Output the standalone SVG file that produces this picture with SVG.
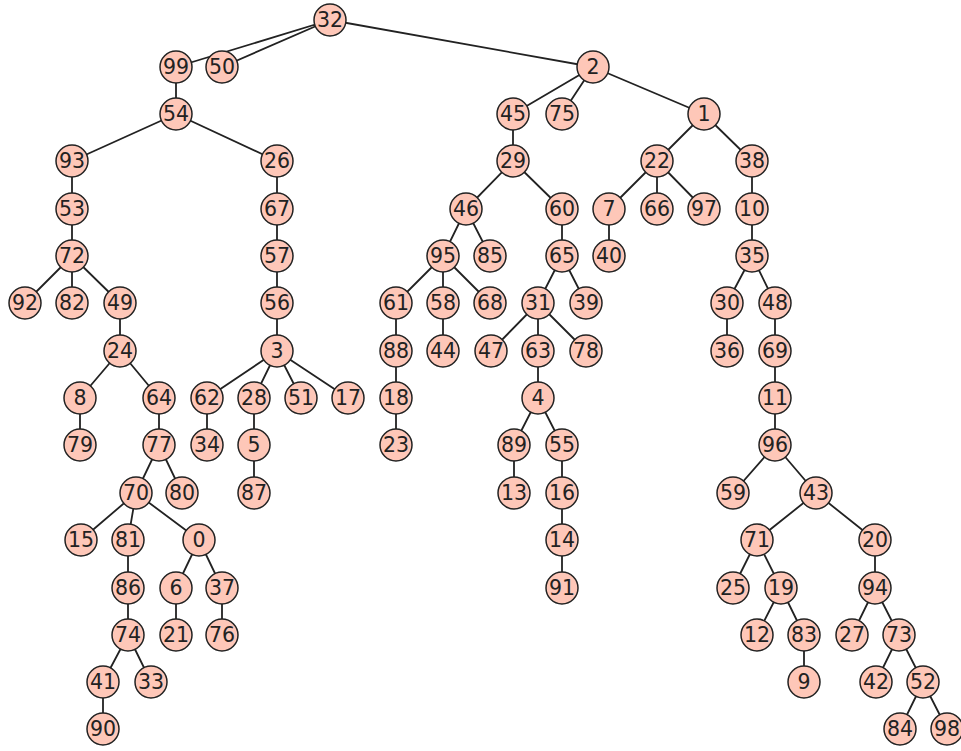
<svg xmlns="http://www.w3.org/2000/svg" width="961" height="751" viewBox="0 0 961 751">
<style>
.e{stroke:#222;stroke-width:1.8;fill:none}
.n circle{fill:#fec7b8;stroke:#222;stroke-width:1.5}
.n text{font-family:"DejaVu Sans",sans-serif;font-size:20.5px;fill:#222;text-anchor:middle;dominant-baseline:central}
</style>
<rect width="961" height="751" fill="#fff"/>
<g id="edges" class="e">
<path d="M330,20L176,67M330,20L222,67M330,20L593,67M176,67L176,114M176,114L72,161M176,114L277,161
M72,161L72,209M72,209L72,256M72,256L25,303M72,256L72,303M72,256L120,303M120,303L120,351M120,351L80,398M120,351L159,398M80,398L80,445M159,398L159,445M159,445L136,493M159,445L182,493
M136,493L81,540M136,493L128,540M136,493L199,540M128,540L128,588M128,588L128,635M128,635L103,682M128,635L151,682M103,682L103,729M199,540L176,588M199,540L222,588M176,588L176,635M222,588L222,635
M277,161L277,209M277,209L277,256M277,256L277,303M277,303L277,351M277,351L207,398M277,351L254,398M277,351L301,398M277,351L348,398M207,398L207,445M254,398L254,445M254,445L254,493
M593,67L513,114M593,67L562,114M593,67L704,114M513,114L513,161M513,161L466,209M513,161L562,209M466,209L443,256M466,209L490,256M443,256L396,303M443,256L443,303M443,256L490,303M396,303L396,351M396,351L396,398M396,398L396,445M443,303L443,351
M562,209L562,256M562,256L538,303M562,256L586,303M538,303L491,351M538,303L538,351M538,303L586,351M538,351L538,398M538,398L514,445M538,398L562,445M514,445L514,493M562,445L562,493M562,493L562,540M562,540L562,588
M704,114L657,161M704,114L752,161M657,161L609,209M657,161L657,209M657,161L704,209M609,209L609,256M752,161L752,209M752,209L752,256M752,256L727,303M752,256L775,303M727,303L727,351M775,303L775,351M775,351L775,398M775,398L775,445
M775,445L733,493M775,445L816,493M816,493L757,540M816,493L875,540M757,540L733,588M757,540L781,588M781,588L757,635M781,588L804,635M804,635L804,682M875,540L875,588M875,588L852,635M875,588L899,635M899,635L876,682M899,635L923,682M923,682L900,729M923,682L947,729"/>
</g>
<g class="n">
<g id="n32"><circle cx="330" cy="20" r="16"/><text x="330" y="20">32</text></g>
<g id="n99"><circle cx="176" cy="67" r="16"/><text x="176" y="67">99</text></g>
<g id="n50"><circle cx="222" cy="67" r="16"/><text x="222" y="67">50</text></g>
<g id="n2"><circle cx="593" cy="67" r="16"/><text x="593" y="67">2</text></g>
<g id="n54"><circle cx="176" cy="114" r="16"/><text x="176" y="114">54</text></g>
<g id="n45"><circle cx="513" cy="114" r="16"/><text x="513" y="114">45</text></g>
<g id="n75"><circle cx="562" cy="114" r="16"/><text x="562" y="114">75</text></g>
<g id="n1"><circle cx="704" cy="114" r="16"/><text x="704" y="114">1</text></g>
<g id="n93"><circle cx="72" cy="161" r="16"/><text x="72" y="161">93</text></g>
<g id="n26"><circle cx="277" cy="161" r="16"/><text x="277" y="161">26</text></g>
<g id="n29"><circle cx="513" cy="161" r="16"/><text x="513" y="161">29</text></g>
<g id="n22"><circle cx="657" cy="161" r="16"/><text x="657" y="161">22</text></g>
<g id="n38"><circle cx="752" cy="161" r="16"/><text x="752" y="161">38</text></g>
<g id="n53"><circle cx="72" cy="209" r="16"/><text x="72" y="209">53</text></g>
<g id="n67"><circle cx="277" cy="209" r="16"/><text x="277" y="209">67</text></g>
<g id="n46"><circle cx="466" cy="209" r="16"/><text x="466" y="209">46</text></g>
<g id="n60"><circle cx="562" cy="209" r="16"/><text x="562" y="209">60</text></g>
<g id="n7"><circle cx="609" cy="209" r="16"/><text x="609" y="209">7</text></g>
<g id="n66"><circle cx="657" cy="209" r="16"/><text x="657" y="209">66</text></g>
<g id="n97"><circle cx="704" cy="209" r="16"/><text x="704" y="209">97</text></g>
<g id="n10"><circle cx="752" cy="209" r="16"/><text x="752" y="209">10</text></g>
<g id="n72"><circle cx="72" cy="256" r="16"/><text x="72" y="256">72</text></g>
<g id="n57"><circle cx="277" cy="256" r="16"/><text x="277" y="256">57</text></g>
<g id="n95"><circle cx="443" cy="256" r="16"/><text x="443" y="256">95</text></g>
<g id="n85"><circle cx="490" cy="256" r="16"/><text x="490" y="256">85</text></g>
<g id="n65"><circle cx="562" cy="256" r="16"/><text x="562" y="256">65</text></g>
<g id="n40"><circle cx="609" cy="256" r="16"/><text x="609" y="256">40</text></g>
<g id="n35"><circle cx="752" cy="256" r="16"/><text x="752" y="256">35</text></g>
<g id="n92"><circle cx="25" cy="303" r="16"/><text x="25" y="303">92</text></g>
<g id="n82"><circle cx="72" cy="303" r="16"/><text x="72" y="303">82</text></g>
<g id="n49"><circle cx="120" cy="303" r="16"/><text x="120" y="303">49</text></g>
<g id="n56"><circle cx="277" cy="303" r="16"/><text x="277" y="303">56</text></g>
<g id="n61"><circle cx="396" cy="303" r="16"/><text x="396" y="303">61</text></g>
<g id="n58"><circle cx="443" cy="303" r="16"/><text x="443" y="303">58</text></g>
<g id="n68"><circle cx="490" cy="303" r="16"/><text x="490" y="303">68</text></g>
<g id="n31"><circle cx="538" cy="303" r="16"/><text x="538" y="303">31</text></g>
<g id="n39"><circle cx="586" cy="303" r="16"/><text x="586" y="303">39</text></g>
<g id="n30"><circle cx="727" cy="303" r="16"/><text x="727" y="303">30</text></g>
<g id="n48"><circle cx="775" cy="303" r="16"/><text x="775" y="303">48</text></g>
<g id="n24"><circle cx="120" cy="351" r="16"/><text x="120" y="351">24</text></g>
<g id="n3"><circle cx="277" cy="351" r="16"/><text x="277" y="351">3</text></g>
<g id="n88"><circle cx="396" cy="351" r="16"/><text x="396" y="351">88</text></g>
<g id="n44"><circle cx="443" cy="351" r="16"/><text x="443" y="351">44</text></g>
<g id="n47"><circle cx="491" cy="351" r="16"/><text x="491" y="351">47</text></g>
<g id="n63"><circle cx="538" cy="351" r="16"/><text x="538" y="351">63</text></g>
<g id="n78"><circle cx="586" cy="351" r="16"/><text x="586" y="351">78</text></g>
<g id="n36"><circle cx="727" cy="351" r="16"/><text x="727" y="351">36</text></g>
<g id="n69"><circle cx="775" cy="351" r="16"/><text x="775" y="351">69</text></g>
<g id="n8"><circle cx="80" cy="398" r="16"/><text x="80" y="398">8</text></g>
<g id="n64"><circle cx="159" cy="398" r="16"/><text x="159" y="398">64</text></g>
<g id="n62"><circle cx="207" cy="398" r="16"/><text x="207" y="398">62</text></g>
<g id="n28"><circle cx="254" cy="398" r="16"/><text x="254" y="398">28</text></g>
<g id="n51"><circle cx="301" cy="398" r="16"/><text x="301" y="398">51</text></g>
<g id="n17"><circle cx="348" cy="398" r="16"/><text x="348" y="398">17</text></g>
<g id="n18"><circle cx="396" cy="398" r="16"/><text x="396" y="398">18</text></g>
<g id="n4"><circle cx="538" cy="398" r="16"/><text x="538" y="398">4</text></g>
<g id="n11"><circle cx="775" cy="398" r="16"/><text x="775" y="398">11</text></g>
<g id="n79"><circle cx="80" cy="445" r="16"/><text x="80" y="445">79</text></g>
<g id="n77"><circle cx="159" cy="445" r="16"/><text x="159" y="445">77</text></g>
<g id="n34"><circle cx="207" cy="445" r="16"/><text x="207" y="445">34</text></g>
<g id="n5"><circle cx="254" cy="445" r="16"/><text x="254" y="445">5</text></g>
<g id="n23"><circle cx="396" cy="445" r="16"/><text x="396" y="445">23</text></g>
<g id="n89"><circle cx="514" cy="445" r="16"/><text x="514" y="445">89</text></g>
<g id="n55"><circle cx="562" cy="445" r="16"/><text x="562" y="445">55</text></g>
<g id="n96"><circle cx="775" cy="445" r="16"/><text x="775" y="445">96</text></g>
<g id="n70"><circle cx="136" cy="493" r="16"/><text x="136" y="493">70</text></g>
<g id="n80"><circle cx="182" cy="493" r="16"/><text x="182" y="493">80</text></g>
<g id="n87"><circle cx="254" cy="493" r="16"/><text x="254" y="493">87</text></g>
<g id="n13"><circle cx="514" cy="493" r="16"/><text x="514" y="493">13</text></g>
<g id="n16"><circle cx="562" cy="493" r="16"/><text x="562" y="493">16</text></g>
<g id="n59"><circle cx="733" cy="493" r="16"/><text x="733" y="493">59</text></g>
<g id="n43"><circle cx="816" cy="493" r="16"/><text x="816" y="493">43</text></g>
<g id="n15"><circle cx="81" cy="540" r="16"/><text x="81" y="540">15</text></g>
<g id="n81"><circle cx="128" cy="540" r="16"/><text x="128" y="540">81</text></g>
<g id="n0"><circle cx="199" cy="540" r="16"/><text x="199" y="540">0</text></g>
<g id="n14"><circle cx="562" cy="540" r="16"/><text x="562" y="540">14</text></g>
<g id="n71"><circle cx="757" cy="540" r="16"/><text x="757" y="540">71</text></g>
<g id="n20"><circle cx="875" cy="540" r="16"/><text x="875" y="540">20</text></g>
<g id="n86"><circle cx="128" cy="588" r="16"/><text x="128" y="588">86</text></g>
<g id="n6"><circle cx="176" cy="588" r="16"/><text x="176" y="588">6</text></g>
<g id="n37"><circle cx="222" cy="588" r="16"/><text x="222" y="588">37</text></g>
<g id="n91"><circle cx="562" cy="588" r="16"/><text x="562" y="588">91</text></g>
<g id="n25"><circle cx="733" cy="588" r="16"/><text x="733" y="588">25</text></g>
<g id="n19"><circle cx="781" cy="588" r="16"/><text x="781" y="588">19</text></g>
<g id="n94"><circle cx="875" cy="588" r="16"/><text x="875" y="588">94</text></g>
<g id="n74"><circle cx="128" cy="635" r="16"/><text x="128" y="635">74</text></g>
<g id="n21"><circle cx="176" cy="635" r="16"/><text x="176" y="635">21</text></g>
<g id="n76"><circle cx="222" cy="635" r="16"/><text x="222" y="635">76</text></g>
<g id="n12"><circle cx="757" cy="635" r="16"/><text x="757" y="635">12</text></g>
<g id="n83"><circle cx="804" cy="635" r="16"/><text x="804" y="635">83</text></g>
<g id="n27"><circle cx="852" cy="635" r="16"/><text x="852" y="635">27</text></g>
<g id="n73"><circle cx="899" cy="635" r="16"/><text x="899" y="635">73</text></g>
<g id="n41"><circle cx="103" cy="682" r="16"/><text x="103" y="682">41</text></g>
<g id="n33"><circle cx="151" cy="682" r="16"/><text x="151" y="682">33</text></g>
<g id="n9"><circle cx="804" cy="682" r="16"/><text x="804" y="682">9</text></g>
<g id="n42"><circle cx="876" cy="682" r="16"/><text x="876" y="682">42</text></g>
<g id="n52"><circle cx="923" cy="682" r="16"/><text x="923" y="682">52</text></g>
<g id="n90"><circle cx="103" cy="729" r="16"/><text x="103" y="729">90</text></g>
<g id="n84"><circle cx="900" cy="729" r="16"/><text x="900" y="729">84</text></g>
<g id="n98"><circle cx="947" cy="729" r="16"/><text x="947" y="729">98</text></g>
</g>
</svg>
